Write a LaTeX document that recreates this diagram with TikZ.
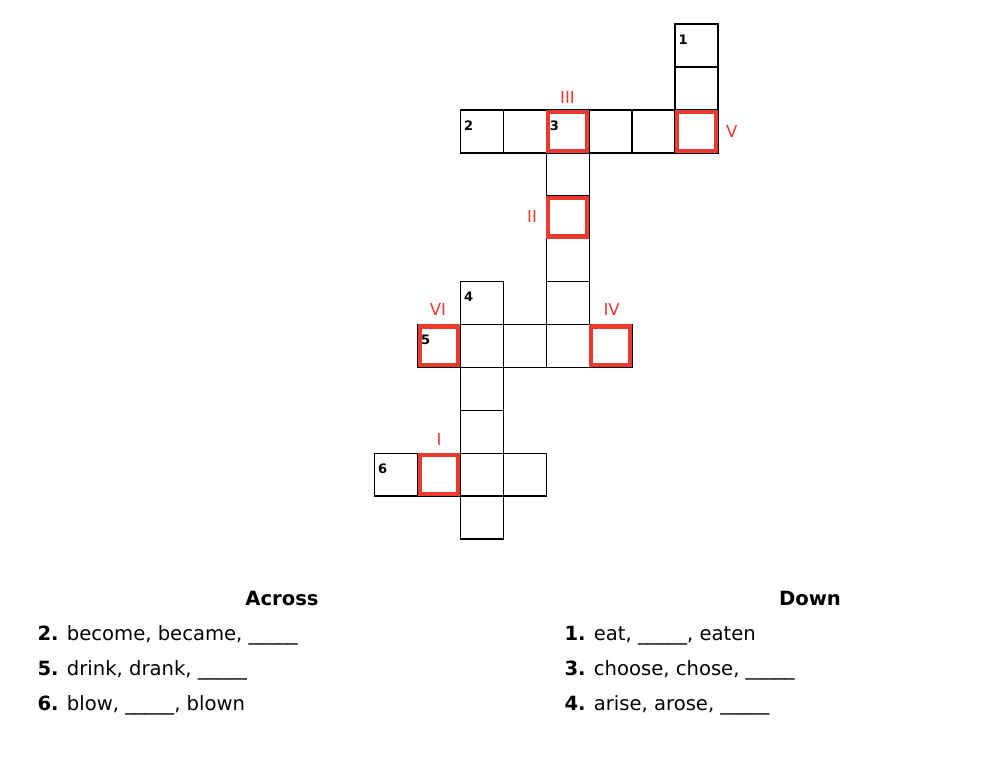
\documentclass[tikz,border=0pt]{standalone}
\usepackage{fontspec}
\setmainfont{DejaVu Sans}
\definecolor{mark}{RGB}{234,58,47}
\begin{document}
\begin{tikzpicture}[x=1pt,y=-1pt,
  cell/.style={draw=black,line width=1.3pt,rectangle,minimum size=42.9pt,inner sep=0pt,anchor=north west},
  redcell/.style={draw=mark,line width=4.2pt,rectangle,minimum size=38.7pt,inner sep=0pt},
  numlbl/.style={font=\fontsize{13}{13}\selectfont\bfseries,anchor=base west,inner sep=0pt},
  roman/.style={font=\fontsize{16.5}{16.5}\selectfont,text=mark,anchor=center,inner sep=0pt},
  clue/.style={font=\fontsize{19.6}{22}\selectfont,anchor=base west,inner sep=0pt},
  head/.style={font=\fontsize{19.6}{22}\selectfont\bfseries,anchor=base,inner sep=0pt}]
\useasboundingbox[fill=white] (0,0) rectangle (1004,760);
% grid cells
\foreach \c/\r in {7/0,7/1,7/2,2/2,3/2,4/2,5/2,6/2,4/3,4/4,4/5,4/6,4/7,2/6,2/7,2/8,2/9,2/10,2/11,1/7,3/7,5/7,0/10,1/10,3/10}{
  \node[cell] (c-\c-\r) at ({374+\c*42.9},{23.5+\r*42.9}) {};
}
% highlighted cells
\foreach \c/\r in {4/2,7/2,4/4,1/7,5/7,1/10}{
  \node[redcell] (r-\c-\r) at (c-\c-\r.center) {};
}
% clue numbers
\node[numlbl] (n1) at ([xshift=4pt,yshift=-21pt]c-7-0.north west) {1};
\node[numlbl] (n2) at ([xshift=4pt,yshift=-21pt]c-2-2.north west) {2};
\node[numlbl] (n3) at ([xshift=4pt,yshift=-21pt]c-4-2.north west) {3};
\node[numlbl] (n4) at ([xshift=4pt,yshift=-21pt]c-2-6.north west) {4};
\node[numlbl] (n5) at ([xshift=4pt,yshift=-21pt]c-1-7.north west) {5};
\node[numlbl] (n6) at ([xshift=4pt,yshift=-21pt]c-0-10.north west) {6};
% roman numerals
\node[roman] (rIII) at (567.5,97.3) {III};
\node[roman] (rV) at (731.7,131.7) {V};
\node[roman] (rII) at (532,216.7) {II};
\node[roman] (rVI) at (438,309) {VI};
\node[roman] (rIV) at (611.7,309) {IV};
\node[roman] (rI) at (439,439.3) {I};
% clues
\node[head] (across) at (282,605) {Across};
\node[head] (down) at (810,605) {Down};
\node[clue] (a2) at (37.3,640) {\textbf{2.} become, became, \_\_\_\_\_};
\node[clue] (a5) at (37.3,675) {\textbf{5.} drink, drank, \_\_\_\_\_};
\node[clue] (a6) at (37.3,710) {\textbf{6.} blow, \_\_\_\_\_, blown};
\node[clue] (d1) at (564.3,640) {\textbf{1.} eat, \_\_\_\_\_, eaten};
\node[clue] (d3) at (564.3,675) {\textbf{3.} choose, chose, \_\_\_\_\_};
\node[clue] (d4) at (564.3,710) {\textbf{4.} arise, arose, \_\_\_\_\_};
\end{tikzpicture}
\end{document}
